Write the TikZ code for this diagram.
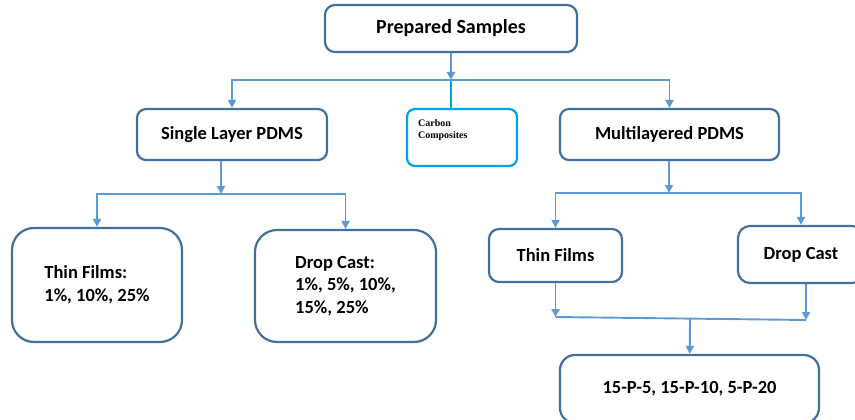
\documentclass[tikz,border=0pt]{standalone}
\usepackage{fontspec}
\setmainfont{Carlito}
\newfontfamily\timesfont{Liberation Serif}
\usetikzlibrary{arrows.meta,positioning}
\definecolor{boxline}{HTML}{41719C}
\definecolor{connline}{HTML}{5B9BD5}
\definecolor{cyanline}{HTML}{00A2E8}
\tikzset{
    box/.style={draw=boxline, line width=2.2pt, rounded corners=#1, inner sep=0pt,
        align=center, font=\fontsize{18.5}{22.5}\selectfont\bfseries},
    box/.default=10pt,
    conn/.style={draw=connline, line width=1.9pt},
    tip/.style={-{Triangle[length=8pt,width=8pt]}}
}

\begin{document}
\begin{tikzpicture}[x=1pt, y=-1pt]
    \clip (0, 0) rectangle (855, 420);
    \fill[white] (0, 0) rectangle (855, 420);

    % top level
    \node[box, minimum width=252, minimum height=47,
        font=\fontsize{20}{24}\selectfont\bfseries] (prep) at (451, 28.5) {Prepared Samples};

    % second level
    \node[box=9pt, minimum width=190, minimum height=51] (single) at (232, 134.5) {Single Layer PDMS};
    \node[draw=cyanline, line width=2.2pt, rounded corners=8pt, minimum width=110, minimum height=57] (carbon) at (462, 137.5) {};
    \node[anchor=north west, inner sep=0pt, align=left,
        font=\timesfont\bfseries\fontsize{10}{12}\selectfont] (carbontext)
        at ([shift={(12, 11)}]carbon.north west) {Carbon\\Composites};
    \node[box=9pt, minimum width=219, minimum height=51] (multi) at (669.5, 134.5) {Multilayered PDMS};

    % single layer branch
    \node[box=22pt, minimum width=170, minimum height=114, align=left] (thinL) at (97, 285) {Thin Films:\\1\%, 10\%, 25\%};
    \node[box=22pt, minimum width=181, minimum height=112, align=left] (dropL) at (345.5, 286) {Drop Cast:\\1\%, 5\%, 10\%,\\15\%, 25\%};

    % multilayered branch
    \node[box, minimum width=133, minimum height=53] (thinR) at (555.5, 255.5) {Thin Films};
    \node[box=12pt, minimum width=126, minimum height=57] (dropR) at (801, 254.5) {Drop Cast};
    \node[box=15pt, minimum width=259, minimum height=68] (final) at (689.5, 389) {15-P-5, 15-P-10, 5-P-20};

    % junctions
    \coordinate (j1) at (451, 80);
    \coordinate (j2) at (221, 194);
    \coordinate (j3) at (669, 193);
    \coordinate (j4) at (555.5, 317);
    \coordinate (j5) at (806, 320);
    \coordinate (j6) at (690, 318.5);

    \draw[conn, tip] (prep) -- (j1);
    \draw[cyanline, line width=2.2pt] (j1) -- (j1 |- carbon.north);
    \draw[conn, tip] (j1) -| (single);
    \draw[conn, tip] (j1) -| (multi);

    \draw[conn, tip] (single.south -| j2) -- (j2);
    \draw[conn, tip] (j2) -| (thinL);
    \draw[conn, tip] (j2) -| (dropL);

    \draw[conn, tip] (multi.south -| j3) -- (j3);
    \draw[conn, tip] (j3) -| (thinR);
    \draw[conn, tip] (j3) -| (dropR);

    \draw[conn, tip] (thinR) -- (j4);
    \draw[conn, tip] (dropR.south -| j5) -- (j5);
    \draw[conn] (j4) -- (j5);
    \draw[conn, tip] (j6) -- (final);
\end{tikzpicture}
\end{document}
